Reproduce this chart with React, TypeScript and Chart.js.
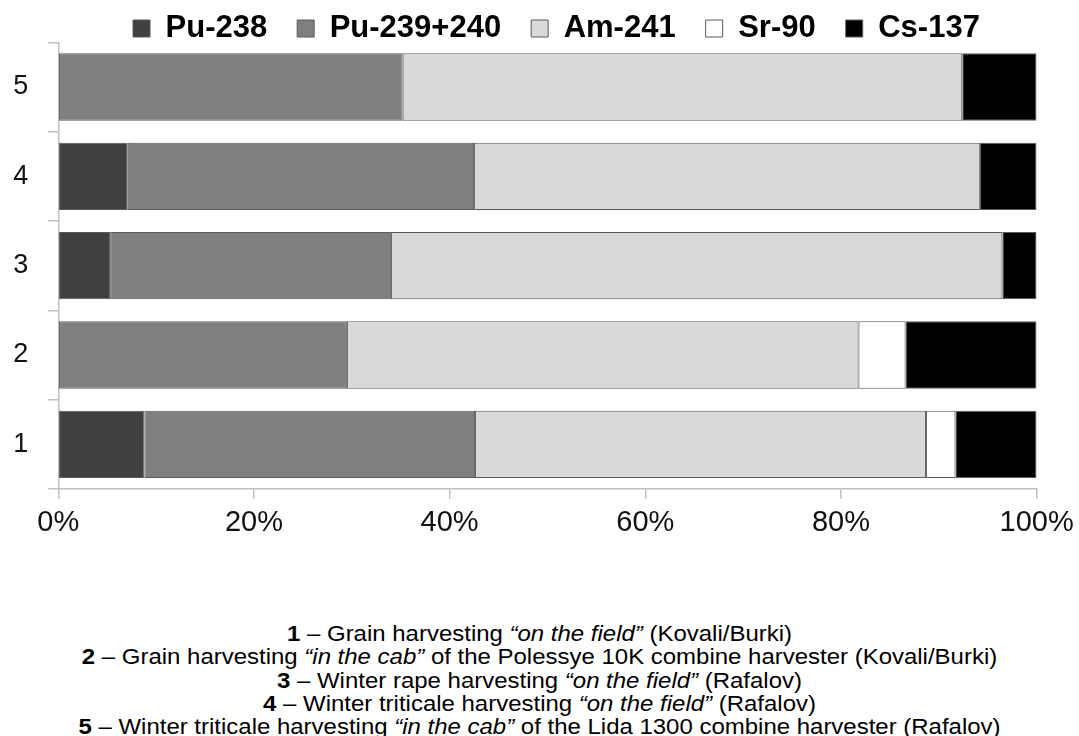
import React, { useEffect, useRef } from 'react';
import { Chart, registerables } from 'chart.js';

Chart.register(...registerables);

// ---- data ----
const categories = ['1', '2', '3', '4', '5'];
const seriesNames = ['Pu-238', 'Pu-239+240', 'Am-241', 'Sr-90', 'Cs-137'];
const pu238 = [8.8, 0, 5.3, 7.1, 0];
const pu239240 = [33.8, 29.5, 28.7, 35.4, 35.2];
const am241 = [46.1, 52.3, 62.5, 51.7, 57.2];
const sr90 = [3.0, 4.8, 0, 0, 0];
const cs137 = [8.3, 13.4, 3.5, 5.8, 7.6];
const seriesColors = ['#404040', '#7f7f7f', '#d9d9d9', '#ffffff', '#000000'];
const xTickValues = [0, 20, 40, 60, 80, 100];

const captionLines: { num: string; before: string; quote: string; after: string }[] = [
  { num: '1', before: ' – Grain harvesting ', quote: '“on the field”', after: ' (Kovali/Burki)' },
  { num: '2', before: ' – Grain harvesting ', quote: '“in the cab”', after: ' of the Polessye 10K combine harvester (Kovali/Burki)' },
  { num: '3', before: ' – Winter rape harvesting ', quote: '“on the field”', after: ' (Rafalov)' },
  { num: '4', before: ' – Winter triticale harvesting ', quote: '“on the field”', after: ' (Rafalov)' },
  { num: '5', before: ' – Winter triticale harvesting ', quote: '“in the cab”', after: ' of the Lida 1300 combine harvester (Rafalov)' },
];

const FONT = "Arial, 'Liberation Sans', Helvetica, sans-serif";

export default function App() {
  const ref = useRef<HTMLCanvasElement>(null);

  useEffect(() => {
    if (!ref.current) return;
    const allSeries = [pu238, pu239240, am241, sr90, cs137];

    const legendTweak = {
      id: 'legendTweak',
      beforeInit(chart: any) {
        const lg = chart.legend;
        if (!lg) return;
        const orig = lg.fit;
        lg.fit = function () {
          orig.call(this);
          this.height = 59.3;
        };
      },
      afterLayout(chart: any) {
        const lg = chart.legend;
        if (!lg) return;
        lg.left += 9;
        lg.right += 9;
      },
    };

    const chart = new Chart(ref.current, {
      type: 'bar',
      data: {
        labels: categories,
        datasets: seriesNames.map((name, i) => ({
          label: name,
          data: allSeries[i],
          backgroundColor: seriesColors[i],
          borderColor: '#5a5a5a',
          borderWidth: 1,
          borderSkipped: false,
          categoryPercentage: 1,
          barPercentage: 0.754,
        })),
      },
      options: {
        indexAxis: 'y',
        animation: false,
        responsive: false,
        maintainAspectRatio: false,
        layout: { padding: { top: -17, left: 0, right: 42.4, bottom: 0 } },
        plugins: {
          tooltip: { enabled: false },
          legend: {
            position: 'top',
            fullSize: false,
            labels: {
              color: '#000',
              font: { family: FONT, size: 31, weight: 'bold' },
              boxWidth: 17,
              boxHeight: 17,
              padding: 30,
            },
          },
        },
        scales: {
          x: {
            type: 'linear',
            stacked: true,
            min: 0,
            max: 100,
            afterBuildTicks: (scale: any) => {
              scale.ticks = xTickValues.map((v) => ({ value: v }));
            },
            afterFit: (scale: any) => {
              scale.height = 71;
              scale.paddingLeft = 0;
              scale.paddingRight = 0;
            },
            grid: { drawOnChartArea: false, tickLength: 10, color: '#bfbfbf', lineWidth: 1.5 },
            border: { display: true, color: '#bfbfbf', width: 1.5 },
            ticks: {
              color: '#111',
              padding: 7,
              font: { family: FONT, size: 29 },
              callback: (v: any) => v + '%',
            },
          },
          y: {
            type: 'category',
            stacked: true,
            reverse: true,
            afterFit: (scale: any) => {
              scale.width = 58.3;
              scale.paddingTop = 0;
              scale.paddingBottom = 0;
            },
            grid: { drawOnChartArea: false, tickLength: 10, color: '#bfbfbf', lineWidth: 1.5, offset: true },
            border: { display: true, color: '#bfbfbf', width: 1.5 },
            ticks: {
              color: '#111',
              padding: 20,
              font: { family: FONT, size: 27 },
            },
          },
        },
      },
      plugins: [legendTweak],
    } as any);

    return () => chart.destroy();
  }, []);

  return (
    <div style={{ position: 'absolute', left: 0, top: 0, width: 1079, height: 736, background: '#fff', overflow: 'hidden' }}>
      <canvas ref={ref} width={1079} height={560} style={{ position: 'absolute', left: 0, top: 0, width: 1079, height: 560 }} />
      <div
        style={{
          position: 'absolute',
          left: 0,
          top: 623,
          width: 1079,
          textAlign: 'center',
          fontFamily: FONT,
          fontSize: 21.5,
          lineHeight: '23.3px',
          color: '#000',
          whiteSpace: 'nowrap',
          transform: 'scaleX(1.115)',
          transformOrigin: '539.5px 0',
        }}
      >
        {captionLines.map((l, i) => (
          <div key={i}>
            <b>{l.num}</b>
            {l.before}
            <i>{l.quote}</i>
            {l.after}
          </div>
        ))}
      </div>
    </div>
  );
}
